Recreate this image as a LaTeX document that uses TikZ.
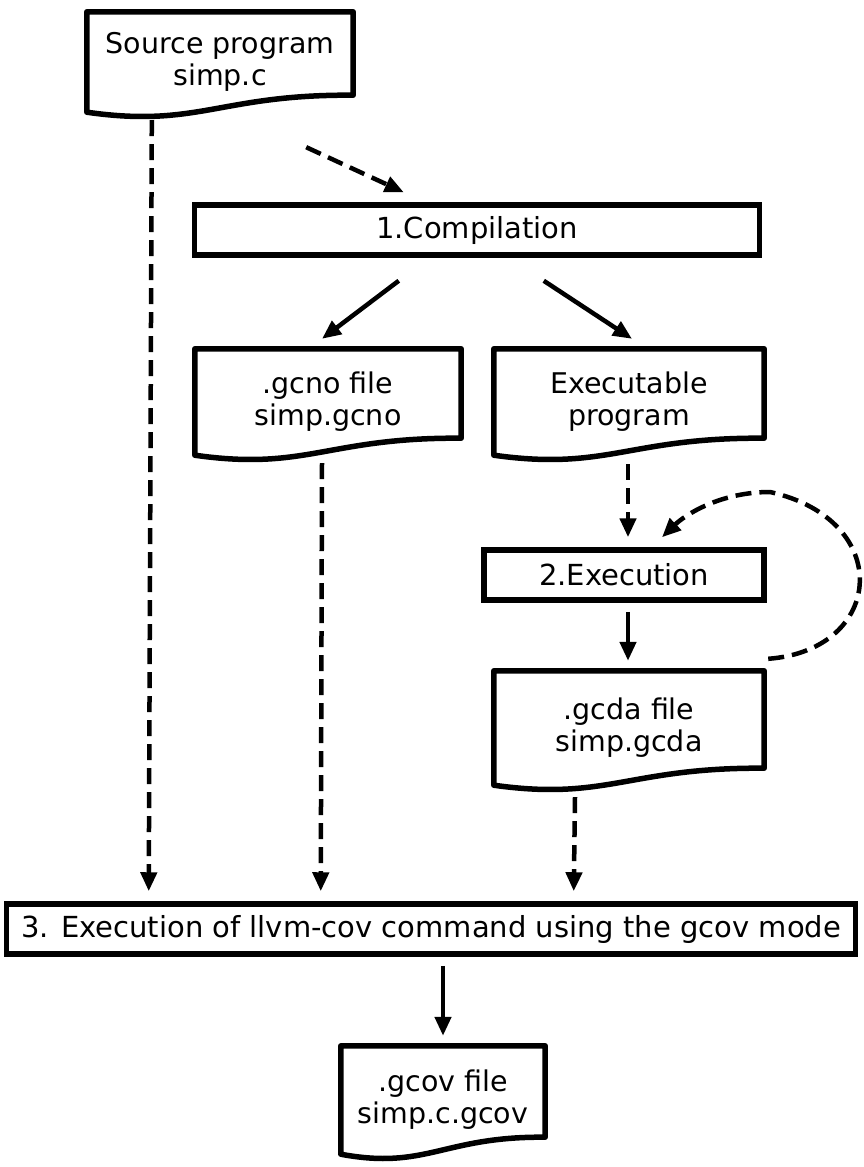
\documentclass[tikz,border=0pt]{standalone}
\usepackage{fontspec}
\setmainfont{DejaVu Sans}
\usetikzlibrary{calc, arrows.meta}

\tikzset{
	box/.style={draw, line width=5.5pt, inner sep=0pt, minimum height=50pt, font=\fontsize{29}{32}\selectfont},
	doc/.style={inner sep=0pt, align=center, font=\fontsize{28.5}{32}\selectfont},
	docedge/.style={line width=5.5pt, line join=round},
	flow/.style={line width=4.5pt, -{Triangle[length=19pt,width=16pt]}},
	dflow/.style={flow, dash pattern=on 16pt off 8pt}
}

% document outline under a node
\newcommand{\docline}[1]{%
	\draw[docedge] (#1.south west) -- (#1.north west) -- (#1.north east) -- ($(#1.south east)+(0,-17)$)
		.. controls ($(#1.south)+(0,-18)$) and ($(#1.south west)!0.42!(#1.south east)+(0,16)$) .. (#1.south west) -- cycle;
}

\begin{document}
\begin{tikzpicture}[x=1pt, y=-1pt]
	\useasboundingbox (0,0) rectangle (864,1167);
	
	\node[doc, minimum width=266pt, minimum height=100pt] (src) at (220,62) {Source program\\simp.c};
	\docline{src}
	
	\node[box, minimum width=565pt] (compile) at (477,230) {1.Compilation};
	
	\node[doc, minimum width=266pt, minimum height=106pt] (gcno) at (328,402) {.gcno file\\simp.gcno};
	\docline{gcno}
	\node[doc, minimum width=270pt, minimum height=106pt] (exec) at (629,402) {Executable\\program};
	\docline{exec}
	
	\node[box, minimum width=280pt] (run) at (624,575) {2.Execution};
	
	\node[doc, minimum width=270pt, minimum height=114pt] (gcda) at (629,728) {.gcda file\\simp.gcda};
	\docline{gcda}
	
	\node[box, minimum width=849pt] (cmd) at (431,929) {3. Execution of llvm-cov command using the gcov mode};
	
	\node[doc, minimum width=204pt, minimum height=108pt] (gcov) at (443,1100) {.gcov file\\simp.c.gcov};
	\docline{gcov}
	
	% arrows
	\draw[dflow] ($(src.south west)+(65,8)$) -- ($(cmd.north west)+(145,-10)$);
	\draw[dflow] ($(src.south east)+(-47,35)$) -- ($(compile.north west)+(212,-10)$);
	\draw[flow] ($(compile.south west)+(207,23)$) -- ($(gcno.north)+(-6,-10)$);
	\draw[flow] ($(compile.south west)+(352,23)$) -- ($(exec.north)+(3,-10)$);
	\draw[dflow] ($(gcno.south)+(-6,8)$) -- ($(cmd.north west)+(317,-10)$);
	\draw[dflow] ($(exec.south)+(-1,9)$) -- ($(run.north)+(4,-10)$);
	\draw[flow] ($(run.south)+(4,9)$) -- ($(gcda.north)+(-1,-10)$);
	\draw[dflow] ($(gcda.south)+(-54,12)$) -- ($(cmd.north west)+(570,-10)$);
	\draw[flow] ($(cmd.south)+(12,9)$) -- ($(gcov.north)+(0,-10)$);
	\draw[dflow] ($(gcda.north east)+(4,-12)$) .. controls (885,650) and (895,520) .. (770,492)
		.. controls (720,492) and (685,515) .. ($(run.north)+(38,-10)$);
\end{tikzpicture}
\end{document}
